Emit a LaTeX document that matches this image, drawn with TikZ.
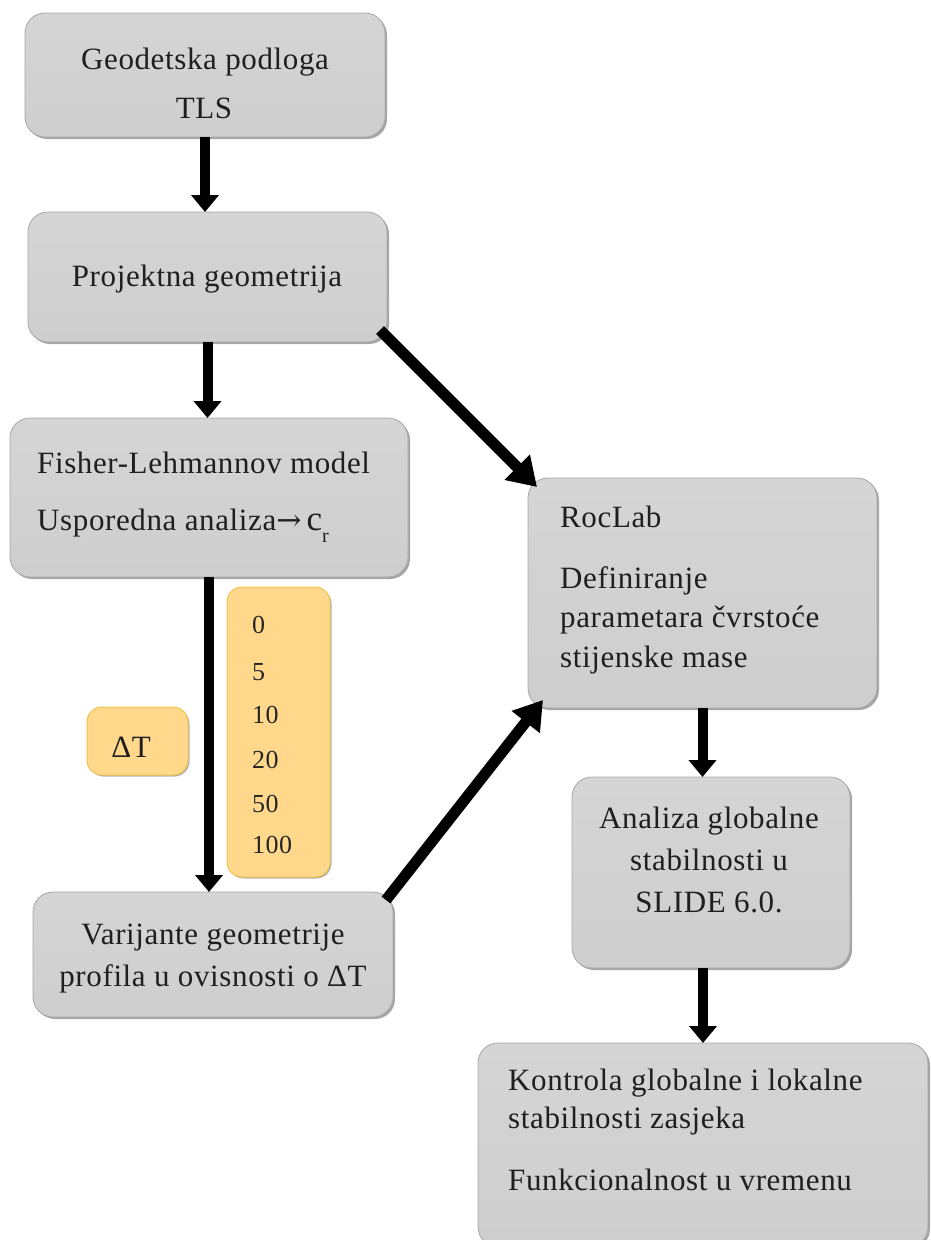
\documentclass[tikz,border=0pt]{standalone}
\usepackage{fontspec}
\setmainfont[LetterSpace=2]{Liberation Serif}
\newfontfamily\symf{DejaVu Serif}
\usetikzlibrary{arrows.meta,shadows,calc}
\definecolor{gdark}{RGB}{196,146,52}
\definecolor{gmid}{RGB}{250,202,112}
\definecolor{glight}{RGB}{255,216,140}
\definecolor{gedge}{RGB}{240,196,80}
\pgfdeclareverticalshading{graybox}{100bp}{color(0bp)=(black!55); color(5bp)=(black!36); color(12bp)=(black!20); color(100bp)=(black!15)}
\pgfdeclareverticalshading{goldbox}{100bp}{color(0bp)=(gdark); color(5bp)=(gmid); color(12bp)=(glight); color(100bp)=(glight)}
\tikzset{
  gbox/.style={rounded corners=20pt, draw=black!35, line width=0.8pt, shade, shading=graybox,
    drop shadow={shadow xshift=2pt, shadow yshift=-2pt, opacity=0.35, fill=black},
    inner sep=0pt, outer sep=0pt},
  ybox/.style={rounded corners=15pt, draw=gedge, line width=1pt, shade, shading=goldbox,
    drop shadow={shadow xshift=1.5pt, shadow yshift=-1.5pt, opacity=0.3, fill=black},
    inner sep=0pt, outer sep=0pt},
  txt/.style={font=\fontsize{31}{36}\selectfont, text=black!88, inner sep=0pt, anchor=base},
  ltxt/.style={txt, anchor=base west},
  num/.style={font=\fontsize{26}{30}\selectfont, text=black!85, inner sep=0pt, anchor=base west},
  varr/.style={line width=10pt, -{Triangle[width=27pt,length=17pt]}},
  darr/.style={line width=11pt, -{Triangle[width=34pt,length=28pt]}}
}
\begin{document}
\begin{tikzpicture}[x=1pt,y=-1pt]
\useasboundingbox (0,0) rectangle (931,1240);
% boxes
\node[gbox, minimum width=360pt, minimum height=124pt] (b1) at (205,75) {};
\node[gbox, minimum width=359pt, minimum height=130pt] (b2) at (207.5,277) {};
\node[gbox, minimum width=398pt, minimum height=159pt] (b3) at (209,497.5) {};
\node[gbox, minimum width=360pt, minimum height=125pt] (b4) at (213,954.5) {};
\node[gbox, minimum width=349pt, minimum height=230pt] (rl) at (702.5,593) {};
\node[gbox, minimum width=278pt, minimum height=191pt] (an) at (711,872.5) {};
\node[gbox, minimum width=450pt, minimum height=204pt] (ko) at (703,1145) {};
\node[ybox, minimum width=101pt, minimum height=68pt] (dt) at (137.5,741) {};
\node[ybox, minimum width=103pt, minimum height=290pt] (vals) at (278.5,732) {};
% texts
\node[txt] (t1a) at (205,69) {Geodetska podloga};
\node[txt] (t1b) at (204,118) {TLS};
\node[txt] (t2) at (207,286) {Projektna geometrija};
\node[ltxt] (t3a) at (37,473) {Fisher-Lehmannov model};
\node[ltxt] (t3b) at (37,530) {Usporedna analiza{\symf\fontsize{30}{36}\selectfont →}\,{\fontsize{35}{40}\selectfont c}\raisebox{-0.4em}{\fontsize{20}{24}\selectfont r}};
\node[txt] (t4a) at (213,944) {Varijante geometrije};
\node[txt] (t4b) at (213,986) {profila u ovisnosti o ΔT};
\node[ltxt] (rla) at (560,527) {RocLab};
\node[ltxt] (rlb) at (560,588) {Definiranje};
\node[ltxt] (rlc) at (560,627) {parametara čvrstoće};
\node[ltxt] (rld) at (560,667) {stijenske mase};
\node[txt] (ana) at (709,828) {Analiza globalne};
\node[txt] (anb) at (709,870) {stabilnosti u};
\node[txt] (anc) at (709,912) {SLIDE 6.0.};
\node[ltxt] (koa) at (508,1090) {Kontrola globalne i lokalne};
\node[ltxt] (kob) at (508,1128) {stabilnosti zasjeka};
\node[ltxt] (koc) at (508,1190) {Funkcionalnost u vremenu};
\node[txt] (dtt) at (131,757) {ΔT};
\node[num] (n0) at (252,633) {0};
\node[num] (n5) at (252,680) {5};
\node[num] (n10) at (252,723) {10};
\node[num] (n20) at (252,768) {20};
\node[num] (n50) at (252,812) {50};
\node[num] (n100) at (252,853) {100};
% arrows
\draw[varr] (b1.south) -- (b1.south |- b2.north);
\draw[varr] (b2.south) -- (b2.south |- b3.north);
\draw[varr] (b3.south) -- (b3.south |- b4.north);
\draw[darr] ($(b2.south east)+(-7,-12)$) -- ($(rl.north west)+(9,9)$);
\draw[darr] ($(b4.north east)+(-7,8)$) -- ($(rl.south west)+(15,-8)$);
\draw[varr] (rl.south) -- (rl.south |- an.north);
\draw[varr] (an.south -| ko.north) -- (ko.north);
\end{tikzpicture}
\end{document}
